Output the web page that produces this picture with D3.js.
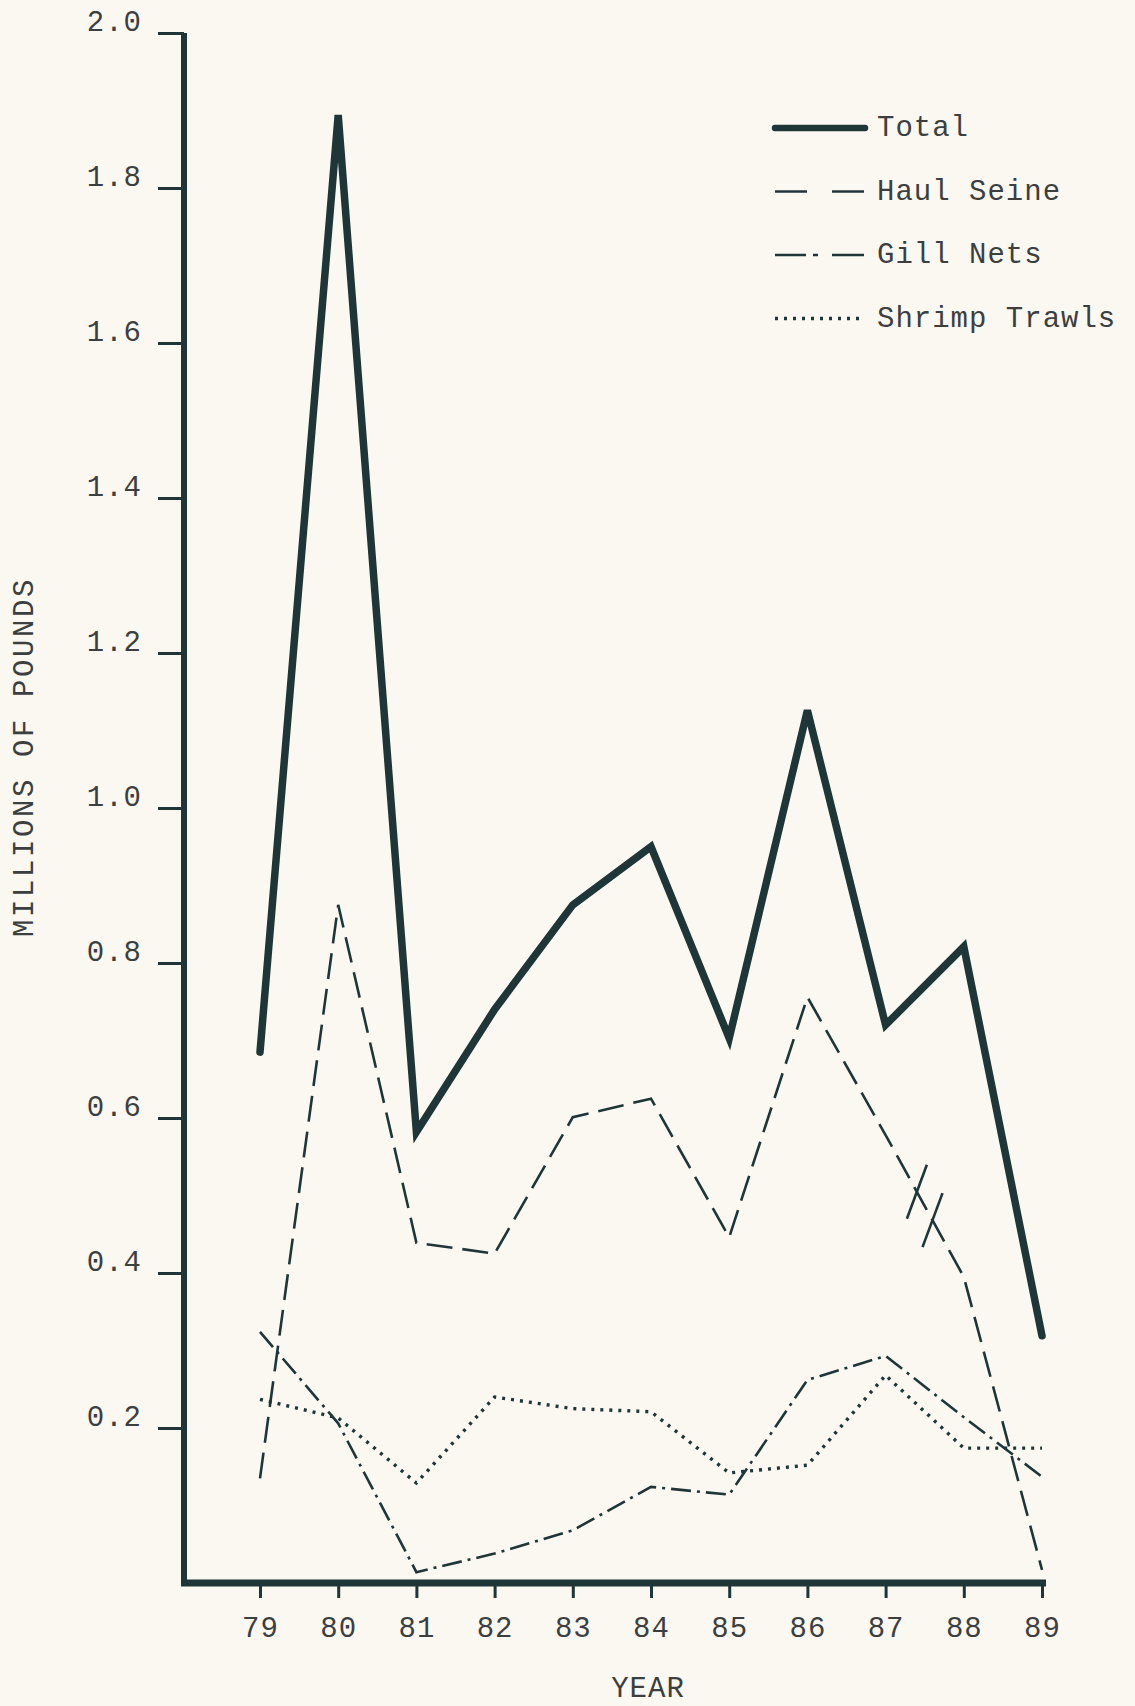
<!DOCTYPE html>
<head>
  <meta charset="utf-8">
  <script src="https://d3js.org/d3.v7.min.js"></script>
  <style>
    body { margin: 0; background: #fbf8f2; overflow: hidden; }
    text {
      font-family: "Liberation Mono", "Courier New", monospace;
      fill: #3c3f3f;
    }
  </style>
</head>

<body>
  <script>

  // values (millions of pounds)
  var years = [79, 80, 81, 82, 83, 84, 85, 86, 87, 88, 89];
  var total       = [0.685, 1.894, 0.582, 0.74, 0.875, 0.950, 0.703, 1.126, 0.720, 0.821, 0.319];
  var haulSeine   = [0.135, 0.875, 0.439, 0.425, 0.601, 0.625, 0.446, 0.756, 0.578, 0.395, 0.017];
  var gillNets    = [0.324, 0.206, 0.014, 0.038, 0.068, 0.124, 0.114, 0.262, 0.293, 0.214, 0.137];
  var shrimpTrawl = [0.237, 0.213, 0.129, 0.240, 0.225, 0.221, 0.142, 0.152, 0.268, 0.174, 0.174];
  var yTicks = [0.2, 0.4, 0.6, 0.8, 1.0, 1.2, 1.4, 1.6, 1.8, 2.0];

  var seriesNames = ["Total", "Haul Seine", "Gill Nets", "Shrimp Trawls"];

  var width = 1135, height = 1706;
  var ink = "#1f3638";

  var svg = d3.select("body").append("svg")
      .attr("width", width)
      .attr("height", height)
      .style("display", "block");

  var x = d3.scaleLinear().domain([79, 89]).range([260, 1042]);
  var y = d3.scaleLinear().domain([0, 2]).range([1583, 33]);
  var axisX = 184;

  // line looks per series
  var styles = [
    {w: 7.5, dash: null, cap: "round"},
    {w: 2.6, dash: "26 10", cap: "butt"},
    {w: 2.6, dash: "20 6 3 6", cap: "butt"},
    {w: 3.4, dash: "3 6", cap: "butt"}
  ];
  var allSeries = [total, haulSeine, gillNets, shrimpTrawl];

  var line = d3.line()
      .x(function(d, i) { return x(years[i]); })
      .y(function(d) { return y(d); });

  // Y axis
  var yAxis = svg.append("g")
      .attr("transform", "translate(" + axisX + ",0)")
      .call(d3.axisLeft(y).tickValues(yTicks).tickSize(26).tickPadding(16)
        .tickFormat(d3.format(".1f")));
  yAxis.select(".domain").remove();
  yAxis.selectAll(".tick line").attr("stroke", ink).attr("stroke-width", 3);
  yAxis.selectAll(".tick text")
      .attr("dy", -3)
      .style("font-size", "29px")
      .style("letter-spacing", "1px")
      .attr("fill", "#3c3f3f");

  // X axis
  var xAxis = svg.append("g")
      .attr("transform", "translate(0," + y(0) + ")")
      .call(d3.axisBottom(x).tickValues(years).tickSize(15).tickPadding(18)
        .tickFormat(function(d) { return d; }));
  xAxis.select(".domain").remove();
  xAxis.selectAll(".tick line").attr("stroke", ink).attr("stroke-width", 3);
  xAxis.selectAll(".tick text")
      .style("font-size", "29px")
      .style("letter-spacing", "1px")
      .attr("fill", "#3c3f3f");

  // heavy frame lines
  svg.append("line")
      .attr("x1", axisX).attr("x2", axisX)
      .attr("y1", y(2)).attr("y2", y(0) + 3)
      .attr("stroke", ink).attr("stroke-width", 6);
  svg.append("line")
      .attr("x1", axisX - 3).attr("x2", x(89) + 4)
      .attr("y1", y(0)).attr("y2", y(0))
      .attr("stroke", ink).attr("stroke-width", 7);

  // series lines
  allSeries.forEach(function(s, k) {
    svg.append("path")
        .datum(s)
        .attr("fill", "none")
        .attr("stroke", ink)
        .attr("stroke-width", styles[k].w)
        .attr("stroke-dasharray", styles[k].dash)
        .attr("stroke-linecap", styles[k].cap)
        .attr("stroke-linejoin", "miter")
        .attr("d", line);
  });

  // break mark on the haul seine line between 87 and 88
  var i87 = years.indexOf(87);
  [87.4, 87.6].forEach(function(t) {
    var f = t - 87;
    var cx = x(t);
    var cy = y(haulSeine[i87] + (haulSeine[i87 + 1] - haulSeine[i87]) * f);
    svg.append("line")
        .attr("x1", cx + 10).attr("y1", cy - 27)
        .attr("x2", cx - 10).attr("y2", cy + 27)
        .attr("stroke", ink).attr("stroke-width", 2.6);
  });

  // axis titles
  svg.append("text")
      .attr("transform", "translate(33,757) rotate(-90)")
      .attr("text-anchor", "middle")
      .style("font-size", "29px")
      .style("letter-spacing", "2.6px")
      .text("MILLIONS OF POUNDS");

  svg.append("text")
      .attr("x", 648).attr("y", 1697)
      .attr("text-anchor", "middle")
      .style("font-size", "29px")
      .style("letter-spacing", "1px")
      .text("YEAR");

  // legend
  var legend = svg.append("g").attr("transform", "translate(775,128)");
  var legendRow = legend.selectAll("g")
      .data(seriesNames)
      .enter().append("g")
      .attr("transform", function(d, i) { return "translate(0," + (i * 63.5) + ")"; });

  legendRow.append("line")
      .attr("x1", 0).attr("x2", 90)
      .attr("stroke", ink)
      .attr("stroke-width", function(d, i) { return i === 0 ? 6.5 : styles[i].w; })
      .attr("stroke-dasharray", function(d, i) {
        if (i === 1) return "32 25 32";
        if (i === 2) return "31 7 5 14 32";
        return styles[i].dash;
      })
      .attr("stroke-linecap", function(d, i) { return i === 0 ? "round" : "butt"; });

  legendRow.append("text")
      .attr("x", 102)
      .attr("y", 8)
      .style("font-size", "29px")
      .style("letter-spacing", "1px")
      .text(function(d) { return d; });

  </script>

</body>
